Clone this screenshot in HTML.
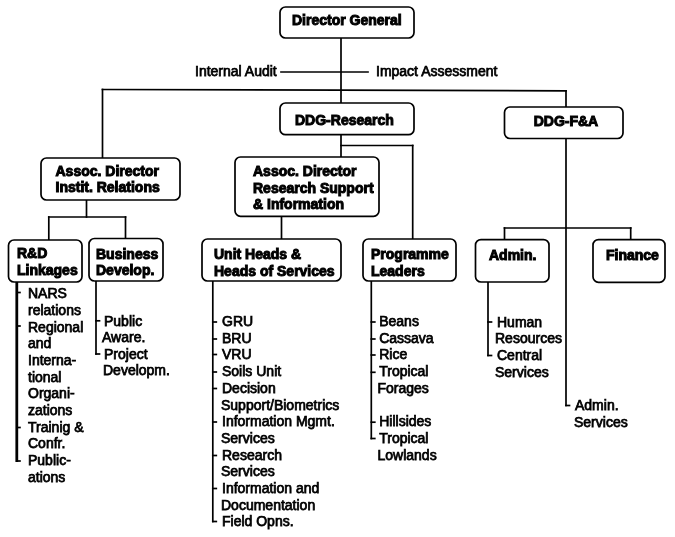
<!DOCTYPE html><html><head><meta charset="utf-8"><style>
html,body{margin:0;padding:0;background:#fff;}body{width:675px;height:537px;overflow:hidden;position:relative;font-family:"Liberation Sans",sans-serif;}
svg{position:absolute;left:0;top:0;filter:blur(0.4px);}
text{font-family:"Liberation Sans",sans-serif;font-size:14px;fill:#000;stroke:#000;stroke-width:0.75px;}
.b{font-weight:bold;font-size:14px;stroke-width:1.0px;}
</style></head><body>
<svg width="675" height="537" viewBox="0 0 675 537">
<g stroke="#000" stroke-width="1.7" fill="none" stroke-linecap="square">
<line x1="341" y1="38" x2="341" y2="103"/>
<line x1="281" y1="72" x2="368" y2="72"/>
<line x1="102.5" y1="89.5" x2="566" y2="90.8"/>
<line x1="102.5" y1="89.5" x2="102.5" y2="158"/>
<line x1="566" y1="90.8" x2="566" y2="107"/>
<line x1="566" y1="138" x2="566" y2="405.5"/>
<line x1="341" y1="134" x2="341" y2="157"/>
<line x1="341" y1="145.5" x2="412.7" y2="145.5"/>
<line x1="412.7" y1="145.5" x2="412.7" y2="239.5"/>
<line x1="281.5" y1="216.3" x2="281.5" y2="239"/>
<line x1="86.5" y1="200" x2="86.5" y2="217"/>
<line x1="48.8" y1="217" x2="125.5" y2="217"/>
<line x1="48.8" y1="217" x2="48.8" y2="240"/>
<line x1="125.5" y1="217" x2="125.5" y2="238.5"/>
<line x1="504.5" y1="228" x2="630.7" y2="228"/>
<line x1="504.5" y1="228" x2="504.5" y2="239.6"/>
<line x1="630.7" y1="228" x2="630.7" y2="239.6"/>
<line x1="96" y1="281" x2="96" y2="354"/>
<line x1="212.8" y1="281" x2="212.8" y2="521.5"/>
<line x1="371.3" y1="281" x2="371.3" y2="438.5"/>
<line x1="488" y1="282" x2="488" y2="355.5"/>
<line x1="96" y1="320.8" x2="99.5" y2="320.8"/>
<line x1="96" y1="354" x2="99.5" y2="354"/>
<line x1="212.8" y1="322" x2="216.3" y2="322"/>
<line x1="212.8" y1="339" x2="216.3" y2="339"/>
<line x1="212.8" y1="354.5" x2="216.3" y2="354.5"/>
<line x1="212.8" y1="372" x2="216.3" y2="372"/>
<line x1="212.8" y1="388.5" x2="216.3" y2="388.5"/>
<line x1="212.8" y1="422" x2="216.3" y2="422"/>
<line x1="212.8" y1="455.5" x2="216.3" y2="455.5"/>
<line x1="212.8" y1="488.5" x2="216.3" y2="488.5"/>
<line x1="212.8" y1="521.5" x2="216.3" y2="521.5"/>
<line x1="371.3" y1="322" x2="374.8" y2="322"/>
<line x1="371.3" y1="339" x2="374.8" y2="339"/>
<line x1="371.3" y1="355" x2="374.8" y2="355"/>
<line x1="371.3" y1="372.3" x2="374.8" y2="372.3"/>
<line x1="371.3" y1="422.2" x2="374.8" y2="422.2"/>
<line x1="371.3" y1="438.5" x2="374.8" y2="438.5"/>
<line x1="488" y1="322" x2="491.5" y2="322"/>
<line x1="488" y1="355.5" x2="491.5" y2="355.5"/>
<line x1="566" y1="405.5" x2="569.5" y2="405.5"/>
</g>
<g stroke="#000" stroke-width="2.8" fill="none" stroke-linecap="butt"><line x1="16.8" y1="282" x2="16.8" y2="462"/></g>
<g stroke="#000" stroke-width="1.7" fill="none">
<line x1="16.8" y1="292.5" x2="20.8" y2="292.5"/>
<line x1="16.8" y1="326" x2="20.8" y2="326"/>
<line x1="16.8" y1="427.5" x2="20.8" y2="427.5"/>
<line x1="16.8" y1="461" x2="20.8" y2="461"/>
</g>
<g stroke="#000" stroke-width="1.7" fill="#fff">
<rect x="280" y="7" width="134" height="31" rx="5.5" ry="5.5"/>
<rect x="280" y="103" width="134" height="31.69999999999999" rx="5.5" ry="5.5"/>
<rect x="504.5" y="107" width="118.5" height="31.5" rx="5.5" ry="5.5"/>
<rect x="41" y="158" width="139" height="42" rx="5.5" ry="5.5"/>
<rect x="235" y="157" width="144" height="59.30000000000001" rx="5.5" ry="5.5"/>
<rect x="8.5" y="240" width="73.5" height="42" rx="5.5" ry="5.5"/>
<rect x="89" y="238.5" width="74" height="42.5" rx="5.5" ry="5.5"/>
<rect x="202" y="239" width="139" height="42" rx="5.5" ry="5.5"/>
<rect x="363" y="239" width="93" height="42" rx="5.5" ry="5.5"/>
<rect x="475.5" y="239.6" width="73.5" height="42.400000000000006" rx="5.5" ry="5.5"/>
<rect x="593" y="239.6" width="72" height="42.70000000000002" rx="5.5" ry="5.5"/>
</g>
<text class="b" x="292" y="25">Director General</text>
<text class="b" x="295" y="125.3">DDG-Research</text>
<text class="b" x="533.7" y="126.3">DDG-F&amp;A</text>
<text class="b" x="55.5" y="176">Assoc. Director</text>
<text class="b" x="55.5" y="192">Instit. Relations</text>
<text class="b" x="253" y="176">Assoc. Director</text>
<text class="b" x="253" y="193">Research Support</text>
<text class="b" x="253" y="209">&amp; Information</text>
<text class="b" x="17" y="258">R&amp;D</text>
<text class="b" x="17" y="275">Linkages</text>
<text class="b" x="96" y="259">Business</text>
<text class="b" x="96" y="275">Develop.</text>
<text class="b" x="214" y="259">Unit Heads &amp;</text>
<text class="b" x="214" y="276">Heads of Services</text>
<text class="b" x="371" y="259">Programme</text>
<text class="b" x="371" y="276">Leaders</text>
<text class="b" x="489" y="259.7">Admin.</text>
<text class="b" x="606" y="259.7">Finance</text>
<text x="195" y="76">Internal Audit</text>
<text x="376" y="76">Impact Assessment</text>
<text x="28" y="298">NARS</text>
<text x="28" y="315">relations</text>
<text x="28" y="332">Regional</text>
<text x="28" y="348">and</text>
<text x="28" y="365">Interna-</text>
<text x="28" y="382">tional</text>
<text x="28" y="398">Organi-</text>
<text x="28" y="415">zations</text>
<text x="28" y="432">Trainig &amp;</text>
<text x="28" y="448">Confr.</text>
<text x="28" y="465">Public-</text>
<text x="28" y="482">ations</text>
<text x="104" y="325.6">Public</text>
<text x="102" y="342.4">Aware.</text>
<text x="104" y="358.6">Project</text>
<text x="103" y="375.4">Developm.</text>
<text x="222" y="326">GRU</text>
<text x="222" y="343">BRU</text>
<text x="222" y="359">VRU</text>
<text x="222" y="376">Soils Unit</text>
<text x="222" y="393">Decision</text>
<text x="221" y="410">Support/Biometrics</text>
<text x="222" y="426">Information Mgmt.</text>
<text x="221" y="443">Services</text>
<text x="222" y="460">Research</text>
<text x="221" y="476">Services</text>
<text x="222" y="493">Information and</text>
<text x="221" y="510">Documentation</text>
<text x="222" y="526">Field Opns.</text>
<text x="379.2" y="326">Beans</text>
<text x="379.2" y="343">Cassava</text>
<text x="379.2" y="359">Rice</text>
<text x="379.2" y="376">Tropical</text>
<text x="377.5" y="393">Forages</text>
<text x="379.2" y="426">Hillsides</text>
<text x="379.2" y="443">Tropical</text>
<text x="377.5" y="460">Lowlands</text>
<text x="497" y="327">Human</text>
<text x="495" y="343">Resources</text>
<text x="497" y="360">Central</text>
<text x="495" y="377">Services</text>
<text x="575" y="410">Admin.</text>
<text x="574" y="427">Services</text>
</svg></body></html>
